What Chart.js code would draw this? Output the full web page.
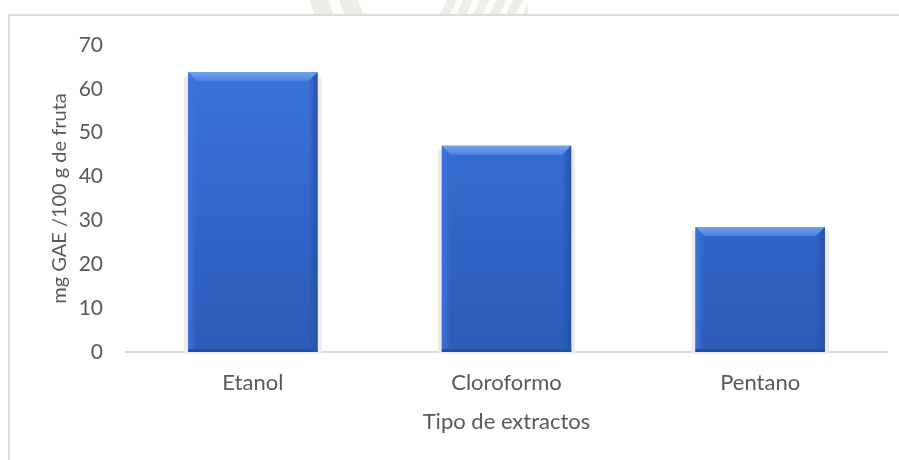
<!DOCTYPE html>
<html>
<head>
<meta charset="utf-8">
<script src="https://cdn.jsdelivr.net/npm/chart.js@4.4.1/dist/chart.umd.min.js"></script>
<style>
  html, body { margin: 0; padding: 0; background: #fff; }
  #wrap { position: relative; width: 899px; height: 460px; overflow: hidden; }
  /* faint stripes of the page background above the frame */
  .mark { position: absolute; top: 0; height: 14px; opacity: 0.35; }
  .mark.a { left: 310px; width: 56px;
    background: repeating-linear-gradient(70deg, transparent 0 4px, #cfcfbd 4px 22px, transparent 22px 28px); }
  .mark.b { left: 440px; width: 88px;
    background: repeating-linear-gradient(115deg, transparent 0 6px, #cfcfbd 6px 15px); }
  #frame { position: absolute; left: 8px; top: 14px; width: 1000px; height: 600px;
    border-left: 2px solid #dcdcdc; border-top: 2px solid #dcdcdc; }
  canvas { position: absolute; left: 0; top: 0; }
</style>
</head>
<body>
<div id="wrap">
  <div class="mark a"></div>
  <div class="mark b"></div>
  <div id="frame"></div>
  <canvas id="extractChart" width="899" height="460"></canvas>
</div>
<script>
const extractos = ["Etanol", "Cloroformo", "Pentano"];
const fenoles = [63.8, 47.0, 28.5];
const yTicks = [0, 10, 20, 30, 40, 50, 60, 70];

const textColor = "#595959";
const fontFamily = "Lato, 'Open Sans', sans-serif";

// soft grey halo behind each bar, then a bevel on top of the face
const bevelBars = {
    id: "bevelBars",
    beforeDatasetsDraw(chart) {
        const ctx = chart.ctx;
        ctx.save();
        chart.getDatasetMeta(0).data.forEach(bar => {
            const { x, y, base, width } = bar.getProps(["x", "y", "base", "width"], true);
            ctx.fillStyle = "#ececec";
            ctx.fillRect(x - width / 2 - 4, y + 4, width + 8, base - y - 2);
        });
        ctx.restore();
    },
    afterDatasetsDraw(chart) {
        const ctx = chart.ctx;
        const b = 9;
        ctx.save();
        chart.getDatasetMeta(0).data.forEach(bar => {
            const { x, y, base, width } = bar.getProps(["x", "y", "base", "width"], true);
            const l = x - width / 2, r = x + width / 2;

            let g = ctx.createLinearGradient(0, y, 0, y + b);
            g.addColorStop(0, "#72a3ec");
            g.addColorStop(1, "#4c82e2");
            ctx.fillStyle = g;
            ctx.beginPath();
            ctx.moveTo(l, y); ctx.lineTo(r, y); ctx.lineTo(r - b, y + b); ctx.lineTo(l + b, y + b);
            ctx.closePath(); ctx.fill();

            g = ctx.createLinearGradient(l, 0, l + b, 0);
            g.addColorStop(0, "#3d74dc");
            g.addColorStop(1, "rgba(61,116,220,0)");
            ctx.fillStyle = g;
            ctx.beginPath();
            ctx.moveTo(l, y); ctx.lineTo(l + b, y + b); ctx.lineTo(l + b, base - 3); ctx.lineTo(l, base);
            ctx.closePath(); ctx.fill();

            g = ctx.createLinearGradient(r - b, 0, r, 0);
            g.addColorStop(0, "rgba(35,80,168,0)");
            g.addColorStop(1, "#2452ac");
            ctx.fillStyle = g;
            ctx.beginPath();
            ctx.moveTo(r, y); ctx.lineTo(r - b, y + b); ctx.lineTo(r - b, base - 3); ctx.lineTo(r, base);
            ctx.closePath(); ctx.fill();

            ctx.fillStyle = "#264f9e";
            ctx.fillRect(l, base - 3, width, 3);
        });
        ctx.restore();
    }
};

new Chart(document.getElementById("extractChart"), {
    type: "bar",
    data: {
        labels: extractos,
        datasets: [{
            data: fenoles,
            backgroundColor: ctx => {
                const area = ctx.chart.chartArea;
                if (!area) return "#3468d2";
                const g = ctx.chart.ctx.createLinearGradient(0, area.top, 0, area.bottom);
                g.addColorStop(0, "#3b74de");
                g.addColorStop(1, "#2c5bb8");
                return g;
            },
            borderWidth: 0,
            barPercentage: 0.51,
            categoryPercentage: 1
        }]
    },
    options: {
        responsive: false,
        animation: false,
        layout: { padding: { left: 38, right: 12, top: 45, bottom: 0 } },
        plugins: {
            legend: { display: false },
            tooltip: { enabled: false }
        },
        scales: {
            x: {
                grid: { display: false, drawTicks: false },
                border: { display: true, color: "#d9d9d9", width: 2 },
                ticks: { color: textColor, font: { family: fontFamily, size: 22 }, padding: 18 },
                title: {
                    display: true,
                    text: "Tipo de extractos",
                    color: textColor,
                    font: { family: fontFamily, size: 22 },
                    padding: { top: 0, bottom: 25 }
                },
                afterFit: scale => { scale.height = 108; }
            },
            y: {
                min: 0,
                max: 70,
                grid: { display: false, drawTicks: false },
                border: { display: false },
                afterBuildTicks: scale => { scale.ticks = yTicks.map(v => ({ value: v })); },
                ticks: { color: textColor, font: { family: fontFamily, size: 21 }, padding: 23 },
                title: {
                    display: true,
                    text: "mg GAE /100 g de fruta",
                    color: textColor,
                    font: { family: fontFamily, size: 20 },
                    padding: { top: 10, bottom: 0 }
                },
                afterFit: scale => { scale.width = 88; }
            }
        }
    },
    plugins: [bevelBars]
});
</script>
</body>
</html>
